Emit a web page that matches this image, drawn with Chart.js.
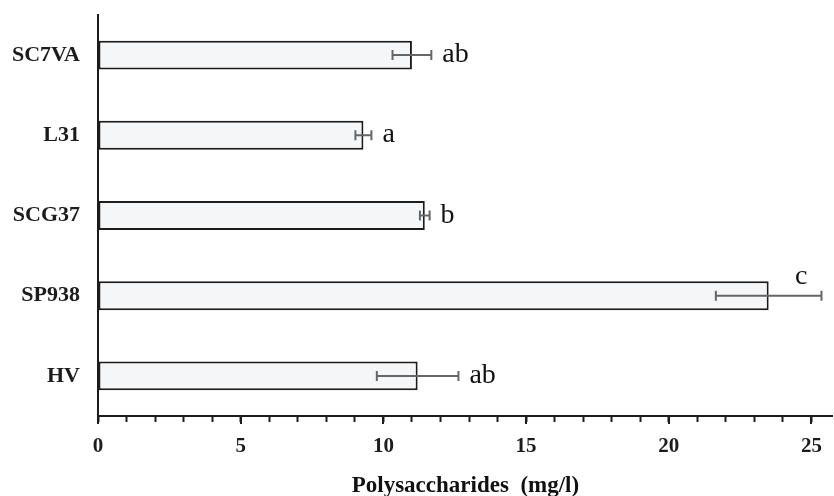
<!DOCTYPE html>
<html>
<head>
<meta charset="utf-8">
<script src="https://cdn.jsdelivr.net/npm/chart.js@4.4.1/dist/chart.umd.min.js"></script>
<style>
  html, body { margin: 0; padding: 0; background: #fff; }
  #wrap { width: 834px; height: 496px; }
</style>
</head>
<body>
<div id="wrap"><canvas id="chart" width="834" height="496"></canvas></div>
<script>
const strains = ['SC7VA', 'L31', 'SCG37', 'SP938', 'HV'];
const polysaccharides = [11.0, 9.3, 11.45, 23.5, 11.2];
const errors = [0.68, 0.28, 0.17, 1.85, 1.43];
const groups = ['ab', 'a', 'b', 'c', 'ab'];
const xTicks = [0, 5, 10, 15, 20, 25];

const INK = '#1c1c1c';
const SERIF = '"Liberation Serif", "Times New Roman", serif';

// error bars with caps, then the significance letter next to each one
const errorBars = {
  id: 'errorBars',
  afterDatasetsDraw(chart) {
    const ctx = chart.ctx;
    const x = chart.scales.x;
    const meta = chart.getDatasetMeta(0);
    ctx.save();
    meta.data.forEach((bar, i) => {
      const y = bar.y;
      const lo = x.getPixelForValue(polysaccharides[i] - errors[i]);
      const hi = x.getPixelForValue(polysaccharides[i] + errors[i]);
      ctx.strokeStyle = '#666';
      ctx.lineWidth = 2;
      ctx.beginPath();
      ctx.moveTo(lo, y); ctx.lineTo(hi, y);
      ctx.moveTo(lo, y - 5); ctx.lineTo(lo, y + 5);
      ctx.moveTo(hi, y - 5); ctx.lineTo(hi, y + 5);
      ctx.stroke();

      ctx.font = '28px ' + SERIF;
      ctx.fillStyle = '#111';
      const w = ctx.measureText(groups[i]).width;
      if (hi + 10 + w <= chart.chartArea.right) {
        ctx.textAlign = 'left';
        ctx.fillText(groups[i], hi + 11, y + 7);
      } else {
        // no room on the right: put it above the bar, left of the cap
        ctx.textAlign = 'right';
        ctx.fillText(groups[i], hi - 14, y - bar.height / 2 + 3);
      }
    });
    ctx.restore();
  }
};

// the 0/5/10.. ticks are a little longer than the unit ticks
const majorTicks = {
  id: 'majorTicks',
  afterDraw(chart) {
    const x = chart.scales.x;
    const ctx = chart.ctx;
    ctx.save();
    ctx.strokeStyle = INK;
    ctx.lineWidth = 2;
    ctx.beginPath();
    xTicks.forEach(v => {
      const px = Math.round(x.getPixelForValue(v));
      ctx.moveTo(px, x.top);
      ctx.lineTo(px, x.top + 8);
    });
    ctx.stroke();
    ctx.restore();
  }
};

new Chart(document.getElementById('chart'), {
  type: 'bar',
  data: {
    labels: strains,
    datasets: [{
      data: polysaccharides,
      backgroundColor: '#f5f6f8',
      borderColor: INK,
      borderWidth: 2,
      borderSkipped: false,
      barPercentage: 0.6,
      categoryPercentage: 0.6
    }]
  },
  options: {
    indexAxis: 'y',
    responsive: false,
    animation: false,
    layout: { padding: { top: 0, right: 1, left: 0, bottom: 0 } },
    plugins: { legend: { display: false }, tooltip: { enabled: false } },
    scales: {
      x: {
        min: 0,
        max: 25.75,
        afterBuildTicks: s => {
          const last = xTicks[xTicks.length - 1];
          s.ticks = s.ticks.filter(t => Number.isInteger(t.value) && t.value <= last);
        },
        afterFit: s => { s.height = 80; },
        border: { color: INK, width: 2 },
        grid: { drawOnChartArea: false, tickLength: 6, tickColor: INK, tickWidth: 2 },
        ticks: {
          stepSize: 1,
          includeBounds: false,
          autoSkip: false,
          maxRotation: 0,
          padding: 12,
          color: INK,
          font: { family: SERIF, size: 21, weight: 'bold' },
          callback: v => xTicks.includes(v) ? v : ''
        },
        title: {
          display: true,
          text: 'Polysaccharides  (mg/l)',
          color: '#111',
          font: { family: SERIF, size: 23, weight: 'bold' },
          padding: { top: 8, bottom: -4 }
        }
      },
      y: {
        afterFit: s => {
          s.width = 98;
          s.paddingTop = 15;
          s.paddingBottom = 0;
        },
        border: { color: INK, width: 2 },
        grid: { drawOnChartArea: false, drawTicks: false },
        ticks: {
          padding: 18,
          color: INK,
          font: { family: SERIF, size: 22, weight: 'bold' }
        }
      }
    }
  },
  plugins: [errorBars, majorTicks]
});
</script>
</body>
</html>
